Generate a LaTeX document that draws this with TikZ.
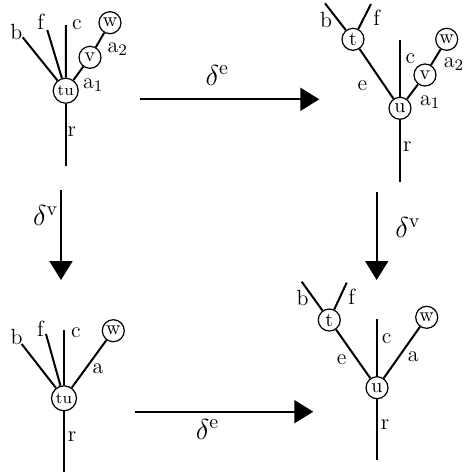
\documentclass[tikz,border=0pt]{standalone}
\usetikzlibrary{arrows.meta}
\begin{document}
\begin{tikzpicture}[x=0.5pt, y=-0.5pt,
    vtx/.style={circle, draw, line width=0.6pt, inner sep=0.8pt, minimum size=11pt, fill=white},
    big/.style={minimum size=12.5pt, font=\footnotesize},
    edge/.style={line width=1pt},
    lbl/.style={inner sep=0pt, font=\fontsize{11}{13}\selectfont},
    dlbl/.style={inner sep=0pt, font=\Large},
    map/.style={line width=1pt, -{Triangle[length=9.5pt,width=11.5pt]}}]
\useasboundingbox (0,0) rectangle (464,473);

% albero in alto a sinistra
\node[vtx, big] (tuA) at (65.7,90.7) {tu};
\node[vtx] (vA) at (90,57.3) {v};
\node[vtx] (wA) at (110,22.7) {w};
\foreach \leaf/\x/\y in {bA/22.7/37.3, fA/47.3/30, cA/66/25, rA/65.7/165.7}
    \coordinate (\leaf) at (\x,\y);
\foreach \endnode in {bA, fA, cA, rA, vA}
    \draw[edge] (tuA) -- (\endnode);
\draw[edge] (vA) -- (wA);
\foreach \name/\x/\y/\txt in {lbA/16.3/31.5/b, lfA/40.7/21.7/f, lcA/77/25/c, laA/93.3/85/a$_1$, lbbA/117.7/49.3/a$_2$, lrA/71.7/131.7/r}
    \node[lbl] (\name) at (\x,\y) {\txt};

% albero in alto a destra
\node[vtx] (uB) at (400,108.3) {u};
\node[vtx] (vB) at (425,75) {v};
\node[vtx] (wB) at (446.7,39.3) {w};
\node[vtx] (tB) at (353,39.3) {t};
\foreach \leaf/\x/\y in {bB/325/3.3, fB/371/4, cB/400/40, rB/400/181.7}
    \coordinate (\leaf) at (\x,\y);
\foreach \startnode/\endnode in {uB/cB, uB/rB, uB/vB, vB/wB, uB/tB, tB/bB, tB/fB}
    \draw[edge] (\startnode) -- (\endnode);
\foreach \name/\x/\y/\txt in {lbB/326/20/b, lfB/376.7/18/f, lcB/410.3/59/c, leB/362.3/85.7/e, laB/430.3/102.3/a$_1$, lbbB/454/64/a$_2$, lrB/407.3/146.7/r}
    \node[lbl] (\name) at (\x,\y) {\txt};

% albero in basso a sinistra
\node[vtx, big] (tuC) at (64,398.3) {tu};
\node[vtx] (wC) at (113.3,330.7) {w};
\foreach \leaf/\x/\y in {bC/21.7/344, fC/46/334, cC/64/330, rC/64/471.7}
    \coordinate (\leaf) at (\x,\y);
\foreach \endnode in {bC, fC, cC, rC, wC}
    \draw[edge] (tuC) -- (\endnode);
\foreach \name/\x/\y/\txt in {lbC/16.7/337.3/b, lfC/40.5/328.3/f, lcC/75.8/332.3/c, laC/98/368.3/a, lrC/72/436.7/r}
    \node[lbl] (\name) at (\x,\y) {\txt};

% albero in basso a destra
\node[vtx] (uD) at (377,387.7) {u};
\node[vtx] (wD) at (426.7,317.3) {w};
\node[vtx] (tD) at (329.3,320) {t};
\foreach \leaf/\x/\y in {bD/301.7/281.7, fD/346.7/282.7, cD/377/319.3, rD/377/460}
    \coordinate (\leaf) at (\x,\y);
\foreach \startnode/\endnode in {uD/cD, uD/rD, uD/wD, uD/tD, tD/bD, tD/fD}
    \draw[edge] (\startnode) -- (\endnode);
\foreach \name/\x/\y/\txt in {lbD/302.7/298.3/b, lfD/351.7/296.7/f, lcD/386.7/338.3/c, leD/341.7/360/e, laD/413.3/356.7/a, lrD/385/425/r}
    \node[lbl] (\name) at (\x,\y) {\txt};

% frecce
\coordinate (top0) at (140,99.3);   \coordinate (top1) at (319.3,99.3);
\coordinate (bot0) at (135,411.7);  \coordinate (bot1) at (313.3,411.7);
\coordinate (lft0) at (61,190);     \coordinate (lft1) at (61,280);
\coordinate (rgt0) at (376.7,191.7); \coordinate (rgt1) at (376.7,280);
\foreach \startnode/\endnode in {top0/top1, bot0/bot1, lft0/lft1, rgt0/rgt1}
    \draw[map] (\startnode) -- (\endnode);
\node[dlbl] (dTop) at (217.3,75) {$\delta^{\mathrm{e}}$};
\node[dlbl] (dBot) at (207.5,429) {$\delta^{\mathrm{e}}$};
\node[dlbl] (dLft) at (45.8,215.7) {$\delta^{\mathrm{v}}$};
\node[dlbl] (dRgt) at (408,227.5) {$\delta^{\mathrm{v}}$};
\end{tikzpicture}
\end{document}
